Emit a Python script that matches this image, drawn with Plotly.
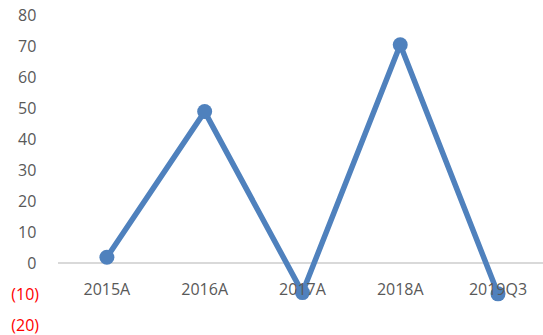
import plotly.graph_objects as go

categories = ["2015A", "2016A", "2017A", "2018A", "2019Q3"]
values = [2.0, 49.0, -9.4, 70.6, -9.8]
y_ticks = [80, 70, 60, 50, 40, 30, 20, 10, 0, -10, -20]

def fmt(v):
    if v < 0:
        return "<span style='color:#ff0000'>(%d)</span>" % (-v)
    return "%d\u2009" % v

fig = go.Figure()
fig.add_trace(go.Scatter(
    x=list(range(len(categories))), y=values, mode="lines+markers",
    line=dict(color="#4f81bd", width=5.5),
    marker=dict(color="#4f81bd", size=15),
    cliponaxis=False, showlegend=False,
))

fig.update_layout(
    width=543, height=335,
    margin=dict(l=58, r=0, t=14, b=8),
    plot_bgcolor="white", paper_bgcolor="white",
    font=dict(family="Open Sans", size=16, color="#595959"),
    xaxis=dict(
        range=[-0.5, 4.46], tickmode="array",
        tickvals=list(range(len(categories))), ticktext=categories,
        showgrid=False, zeroline=False, showline=False,
        anchor="free", position=0.201, ticks="", ticklabelstandoff=14,
    ),
    yaxis=dict(
        range=[-20.5, 80.5], tickmode="array", tickvals=y_ticks,
        ticktext=[fmt(v) for v in y_ticks],
        showgrid=False, zeroline=True, zerolinecolor="#d9d9d9", zerolinewidth=1.5,
        showline=False, ticks="", ticklabelstandoff=18,
        ticklabeloverflow="allow",
    ),
)

fig.write_html("out.html")
